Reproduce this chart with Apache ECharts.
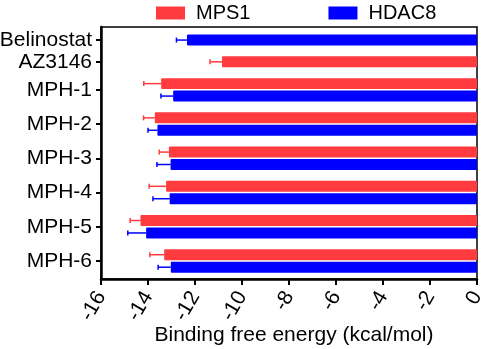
<!DOCTYPE html>
<html>
<head>
<meta charset="utf-8">
<script src="https://cdn.jsdelivr.net/npm/echarts@6/dist/echarts.min.js"></script>
<style>
  html, body { margin: 0; padding: 0; background: #fff; }
  #chart { width: 484px; height: 349px; }
</style>
</head>
<body>
<div id="chart"></div>
<script>
const categories = ['Belinostat', 'AZ3146', 'MPH-1', 'MPH-2', 'MPH-3', 'MPH-4', 'MPH-5', 'MPH-6'];
const mps1 = [null, -10.85, -13.44, -13.71, -13.11, -13.23, -14.32, -13.31];
const mps1Err = [null, 0.51, 0.74, 0.48, 0.41, 0.72, 0.44, 0.61];
const hdac8 = [-12.34, null, -12.93, -13.6, -13.04, -13.08, -14.08, -13.03];
const hdac8Err = [0.45, null, 0.52, 0.4, 0.58, 0.71, 0.78, 0.54];
const xTicks = [-16, -14, -12, -10, -8, -6, -4, -2, 0];

const RED = '#FF3B3F';
const BLUE = '#0000FF';
const FONT = 'Liberation Sans, Arial, sans-serif';
const GAP = 0.75;      // extra space between groups, in bar rows
const BAR_H = 0.88;    // bar thickness, in bar rows

// lay out rows: each present bar takes one row, groups separated by GAP
const mpsRow = [], hdacRow = [], catPos = [];
let cursor = 0;
categories.forEach((c, i) => {
  const rows = [];
  if (mps1[i] != null) { mpsRow[i] = cursor; rows.push(cursor); cursor += 1; }
  if (hdac8[i] != null) { hdacRow[i] = cursor; rows.push(cursor); cursor += 1; }
  catPos[i] = rows.reduce((a, b) => a + b, 0) / rows.length;
  cursor += GAP;
});
const lastRow = cursor - 1 - GAP;

function barData(vals, errs, rows) {
  const out = [];
  vals.forEach((v, i) => { if (v != null) out.push([v, rows[i], errs[i]]); });
  return out;
}

function renderBar(params, api) {
  const start = api.coord([0, api.value(1)]);
  const end = api.coord([api.value(0), api.value(1)]);
  const h = api.size([0, BAR_H])[1];
  return {
    type: 'rect',
    shape: { x: end[0], y: end[1] - h / 2, width: start[0] - end[0], height: h, r: 1 },
    style: { fill: api.visual('color') }
  };
}

function renderErr(params, api) {
  const v = api.value(0), row = api.value(1), e = api.value(2);
  const p0 = api.coord([v, row]);
  const p1 = api.coord([v - e, row]);
  const color = api.visual('color');
  return {
    type: 'group',
    children: [
      { type: 'line', shape: { x1: p0[0], y1: p0[1], x2: p1[0], y2: p1[1] }, style: { stroke: color, lineWidth: 1.5 } },
      { type: 'line', shape: { x1: p1[0], y1: p1[1] - 2.5, x2: p1[0], y2: p1[1] + 2.5 }, style: { stroke: color, lineWidth: 1.5 } }
    ]
  };
}

const chart = echarts.init(document.getElementById('chart'));
chart.setOption({
  animation: false,
  textStyle: { fontFamily: FONT },
  legend: {
    data: [
      { name: 'MPS1', icon: 'rect', itemStyle: { color: RED } },
      { name: 'HDAC8', icon: 'rect', itemStyle: { color: BLUE } }
    ],
    left: 151,
    top: -2,
    itemWidth: 29,
    itemHeight: 13,
    itemGap: 78,
    textStyle: { fontSize: 20, color: '#000', fontFamily: FONT, padding: [2, 0, 0, 6] }
  },
  grid: {
    left: 101, right: 7, top: 27, bottom: 70,
    outerBoundsMode: 'none',
    show: true, borderColor: '#000', borderWidth: 1.5, backgroundColor: 'transparent'
  },
  xAxis: {
    type: 'value',
    min: -16, max: 0, interval: 2,
    name: 'Binding free energy (kcal/mol)',
    nameLocation: 'middle',
    nameGap: 46,
    nameMoveOverlap: false,
    nameTextStyle: { fontSize: 21, color: '#000', fontFamily: FONT, padding: [0, 0, 0, 10] },
    axisLine: { show: true, onZero: false, lineStyle: { color: '#000', width: 2.5 } },
    axisTick: { show: true, length: 6, lineStyle: { color: '#000', width: 2 } },
    axisLabel: {
      rotate: 60, fontSize: 21, color: '#000', margin: 14, fontFamily: FONT,
      padding: [14, 0, 0, 0],
      formatter: v => xTicks.includes(v) ? String(v) : ''
    },
    splitLine: { show: false }
  },
  yAxis: {
    type: 'value',
    inverse: true,
    min: -1.05,
    max: lastRow + 0.95,
    axisLine: { show: true, onZero: false, lineStyle: { color: '#000', width: 2.5 } },
    axisTick: { show: true, length: 5, customValues: catPos, lineStyle: { color: '#000', width: 2 } },
    axisLabel: {
      customValues: catPos, fontSize: 21, color: '#000', margin: 9, fontFamily: FONT,
      formatter: v => {
        let best = 0;
        catPos.forEach((p, i) => { if (Math.abs(p - v) < Math.abs(catPos[best] - v)) best = i; });
        return categories[best];
      }
    },
    splitLine: { show: false }
  },
  series: [
    { name: 'MPS1', type: 'custom', renderItem: renderBar, itemStyle: { color: RED }, data: barData(mps1, mps1Err, mpsRow), z: 2 },
    { name: 'HDAC8', type: 'custom', renderItem: renderBar, itemStyle: { color: BLUE }, data: barData(hdac8, hdac8Err, hdacRow), z: 2 },
    { name: 'MPS1 err', type: 'custom', renderItem: renderErr, itemStyle: { color: RED }, data: barData(mps1, mps1Err, mpsRow), z: 3 },
    { name: 'HDAC8 err', type: 'custom', renderItem: renderErr, itemStyle: { color: BLUE }, data: barData(hdac8, hdac8Err, hdacRow), z: 3 }
  ]
});
</script>
</body>
</html>
